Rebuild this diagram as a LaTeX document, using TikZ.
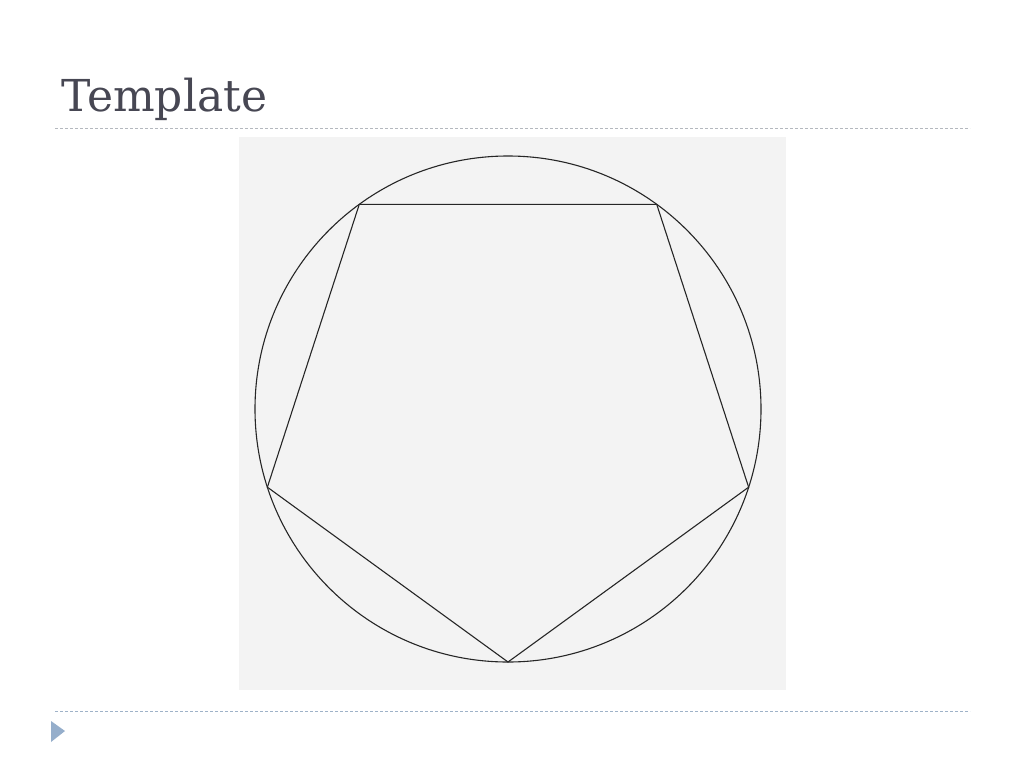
\documentclass[tikz,border=0pt]{standalone}
\usepackage{fontspec}
\setmainfont{DejaVu Serif}
\usetikzlibrary{calc}
\definecolor{titlegray}{HTML}{474753}
\definecolor{rulegray}{HTML}{B4B8BE}
\definecolor{ruleblue}{HTML}{9FB2C8}
\definecolor{bulletblue}{HTML}{95AECB}
\definecolor{panelgray}{HTML}{F3F3F3}
\tikzset{
	rule/.style={dashed,dash pattern=on 3pt off 2pt,line width=0.9pt},
	figline/.style={draw=black!85,line width=1.1pt}
}
\begin{document}
\begin{tikzpicture}[x=1pt,y=-1pt]
		\useasboundingbox[fill=white] (0,0) rectangle (1024,768);
		\node[anchor=base west,inner sep=0pt,text=titlegray,font=\fontsize{44}{44}\selectfont] (title) at (61,111) {Template};
		\draw[rule,draw=rulegray] (55,128) -- (970,128);
		\draw[rule,draw=ruleblue] (55,711) -- (970,711);
		\fill[bulletblue] (51,721) -- (65,731) -- (51,742) -- cycle;
		\fill[panelgray] (239,137) rectangle (786,690);
		\coordinate (o) at (508,409);
		\draw[figline] (o) circle (253);
		\foreach \k/\a in {1/90,2/162,3/234,4/306,5/18}
		\coordinate (v\k) at ($(o)+(\a:253)$);
		\draw[figline] (v1) -- (v2) -- (v3) -- (v4) -- (v5) -- cycle;
	\end{tikzpicture}
\end{document}
